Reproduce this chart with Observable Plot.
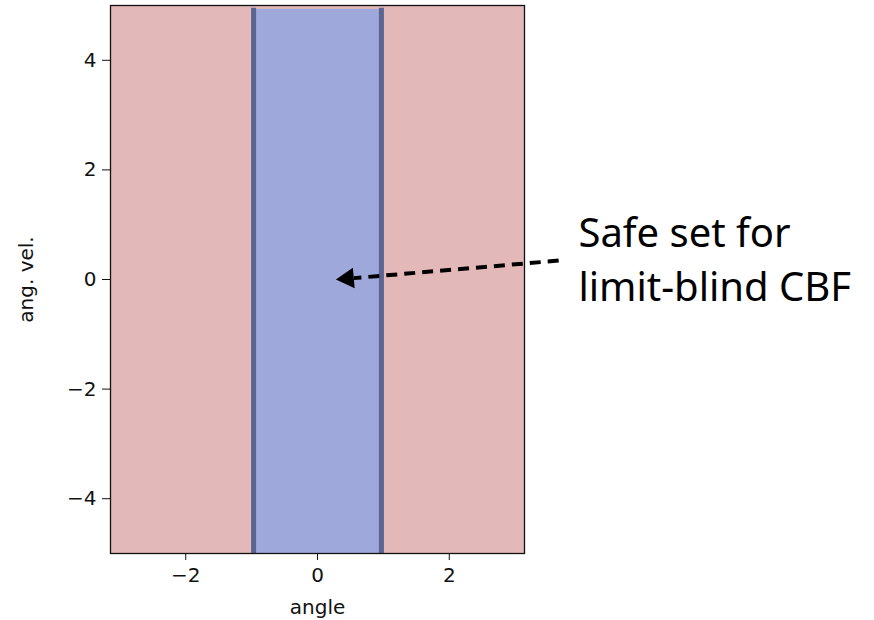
<!DOCTYPE html>
<html>
<head>
<meta charset="utf-8">
<script src="https://cdn.jsdelivr.net/npm/d3@7"></script>
<script src="https://cdn.jsdelivr.net/npm/@observablehq/plot@0.6"></script>
<style>
  html, body { margin: 0; padding: 0; background: #fff; }
  #chart svg { display: block; }
</style>
</head>
<body>
<div id="chart"></div>
<script>
// ---- data ----
const angleDomain = [-Math.PI, Math.PI];
const velDomain = [-5, 5];
const xTicks = [-2, 0, 2];
const yTicks = [-4, -2, 0, 2, 4];
// safe set (limit-blind CBF): |angle| <= 1
const safeAngle = [-1, 1];
const safeVelTop = 4.93;
const boundaryAngles = [-0.97, 0.97];
// annotation (data units)
const arrowTail = {x: 3.66, y: 0.345};
const arrowBase = {x: 0.55, y: 0.025};
const arrowHeadCenter = {x: 0.46, y: 0.018};
const noteLines = ["Safe set for", "limit-blind CBF"];
const noteX = [3.96, 3.96];
const noteY = [0.585, -0.39];

const bg = [{x1: angleDomain[0], x2: angleDomain[1], y1: velDomain[0], y2: velDomain[1]}];
const safe = [{x1: safeAngle[0], x2: safeAngle[1], y1: velDomain[0], y2: safeVelTop}];
const notes = noteLines.map((t, i) => ({t, x: noteX[i], y: noteY[i]}));
const fmt = d3.format("d");

const chart = Plot.plot({
  width: 874,
  height: 620,
  marginLeft: 110,
  marginRight: 350,
  marginTop: 5,
  marginBottom: 67,
  style: {fontFamily: "DejaVu Sans", fontSize: "20px", color: "#111", background: "#fff"},
  x: {domain: angleDomain, ticks: xTicks, tickFormat: fmt},
  y: {domain: velDomain, ticks: yTicks, tickFormat: fmt},
  marks: [
    Plot.rect(bg, {x1: "x1", x2: "x2", y1: "y1", y2: "y2", fill: "#e2b9b8"}),
    Plot.rect(safe, {x1: "x1", x2: "x2", y1: "y1", y2: "y2", fill: "#9fa8db"}),
    Plot.ruleX(boundaryAngles, {y1: velDomain[0], y2: safeVelTop + 0.02, stroke: "#5b6591", strokeWidth: 5}),
    Plot.frame({stroke: "#111", strokeWidth: 1.3}),
    Plot.axisX({ticks: xTicks, tickFormat: fmt, tickSize: 7, tickPadding: 7, label: "angle", labelAnchor: "center", labelOffset: 60, labelArrow: false, fontSize: 20, fill: "#111"}),
    Plot.axisY({ticks: yTicks, tickFormat: fmt, tickSize: 8, tickPadding: 6, label: "ang. vel.", labelAnchor: "center", labelOffset: 92, labelArrow: false, fontSize: 20, fill: "#111"}),
    Plot.link([{x1: arrowTail.x, y1: arrowTail.y, x2: arrowBase.x, y2: arrowBase.y}], {
      x1: "x1", y1: "y1", x2: "x2", y2: "y2", stroke: "black", strokeWidth: 4, strokeDasharray: "11,7", clip: false
    }),
    Plot.dot([arrowHeadCenter], {x: "x", y: "y", symbol: "triangle", r: 7.7, rotate: -95, fill: "black", stroke: "none", clip: false}),
    Plot.text(notes, {x: "x", y: "y", text: "t", textAnchor: "start", lineAnchor: "bottom", fontSize: 40, fontFamily: "Noto Sans", fill: "#000", clip: false})
  ]
});
document.getElementById("chart").appendChild(chart);
</script>
</body>
</html>
